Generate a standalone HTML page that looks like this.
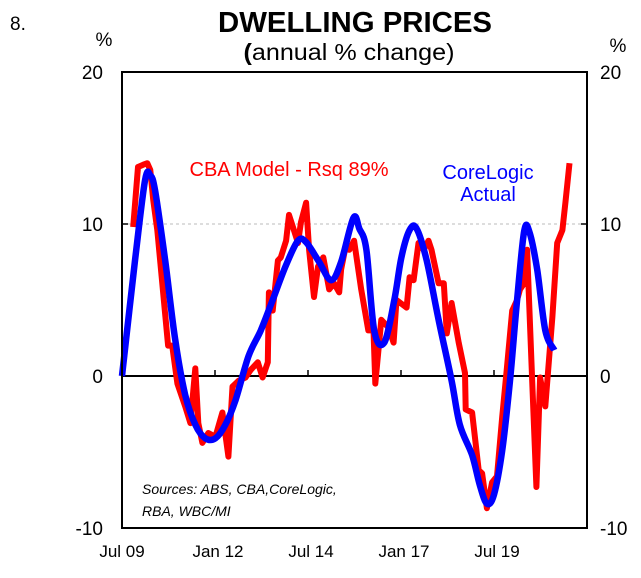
<!DOCTYPE html>
<html><head><meta charset="utf-8"><style>
body{margin:0;background:#fff;font-family:"Liberation Sans",sans-serif}
</style></head><body>
<svg width="641" height="573" xmlns="http://www.w3.org/2000/svg" font-family="Liberation Sans, sans-serif">
<text x="10" y="30" font-size="19">8.</text>
<text x="355" y="32" font-size="29" font-weight="bold" text-anchor="middle" textLength="274" lengthAdjust="spacingAndGlyphs">DWELLING PRICES</text>
<text x="349" y="60" font-size="23" text-anchor="middle" textLength="211" lengthAdjust="spacingAndGlyphs"><tspan font-weight="bold">(</tspan>annual % change)</text>
<text x="104" y="46" font-size="19" text-anchor="middle">%</text>
<text x="618" y="52" font-size="19" text-anchor="middle">%</text>
<g id="grid"></g>
<g id="axes"></g>
<g id="series"></g>
<rect x="122" y="72" width="465" height="456" fill="none" stroke="#000" stroke-width="2"/>
<text x="289" y="176" font-size="20" fill="#f00" text-anchor="middle">CBA Model - Rsq 89%</text>
<text x="488" y="179" font-size="20" fill="#00f" text-anchor="middle">CoreLogic</text>
<text x="488" y="201" font-size="20" fill="#00f" text-anchor="middle">Actual</text>
<text x="142" y="494" font-size="14" font-style="italic">Sources: ABS, CBA,CoreLogic,</text>
<text x="142" y="516" font-size="14" font-style="italic">RBA, WBC/MI</text>
</svg>
<script>
const yTicks=[-10,0,10,20];
const xTickLabels=["Jul 09","Jan 12","Jul 14","Jan 17","Jul 19"];
const xTickDates=[2009.5,2012,2014.5,2017,2019.5];
const redDates=[2009.80,2009.93,2010.07,2010.18,2010.26,2010.34,2010.45,2010.74,2010.85,2010.99,2011.2,2011.34,2011.47,2011.55,2011.66,2011.82,2012.01,2012.2,2012.36,2012.47,2012.64,2012.82,2012.96,2013.15,2013.28,2013.42,2013.45,2013.55,2013.69,2013.77,2013.91,2013.99,2014.12,2014.23,2014.31,2014.45,2014.53,2014.66,2014.77,2014.91,2015.07,2015.2,2015.34,2015.39,2015.53,2015.61,2015.74,2015.93,2016.12,2016.26,2016.31,2016.47,2016.66,2016.8,2016.88,2017.15,2017.23,2017.34,2017.47,2017.61,2017.74,2017.82,2018.01,2018.15,2018.23,2018.36,2018.55,2018.72,2018.74,2018.91,2019.09,2019.18,2019.31,2019.45,2019.58,2019.72,2019.85,2019.99,2020.12,2020.2,2020.31,2020.39,2020.53,2020.64,2020.74,2020.88,2021.07,2021.2,2021.34,2021.42,2021.53];
const redValues=[9.8,13.75,13.9,14.0,13.55,11.6,9.6,2.0,2.0,-0.5,-2.0,-3.1,0.5,-3.1,-4.4,-3.75,-4.0,-2.4,-5.3,-0.7,-0.3,-0.1,0.4,0.9,-0.1,0.9,5.5,4.3,7.6,7.8,8.9,10.6,9.6,8.75,10.1,11.4,8.3,5.2,7.2,7.8,5.7,6.1,5.5,7.0,8.75,8.3,8.9,5.7,3.0,3.0,-0.5,3.7,3.2,2.2,5.0,4.5,6.5,6.3,8.75,8.3,8.9,8.3,6.1,6.1,2.8,4.8,2.2,0.2,-2.2,-2.4,-6.2,-6.4,-8.7,-7.0,-6.6,-2.7,0.6,4.3,5.0,5.7,6.1,8.3,-0.5,-7.3,-0.1,-2.0,3.9,8.75,9.6,11.4,14.0];
const blueDates=[2009.5,2009.85,2010.12,2010.26,2010.39,2010.66,2010.93,2011.2,2011.47,2011.74,2012.01,2012.28,2012.55,2012.9,2013.23,2013.55,2013.91,2014.23,2014.45,2014.8,2015.12,2015.39,2015.72,2015.88,2016.07,2016.28,2016.55,2016.82,2017.01,2017.23,2017.42,2017.69,2018.01,2018.36,2018.58,2018.91,2019.12,2019.31,2019.5,2019.72,2019.93,2020.12,2020.31,2020.45,2020.66,2020.88,2021.12];
const blueValues=[0,7.6,12.9,13.2,12.2,7.6,2.4,-1.25,-3.2,-4.1,-4.1,-3.2,-1.6,1.3,3.0,5.0,7.3,8.9,8.8,7.5,6.3,7.5,10.4,9.7,8.3,3.0,2.2,5.0,7.8,9.6,9.7,7.6,3.7,-0.3,-3.2,-5.2,-7.2,-8.4,-7.8,-4.9,-0.3,5.0,9.5,9.5,7.0,3.0,1.7];
const NS="http://www.w3.org/2000/svg";
const X=t=>122+(t-2009.5)*37.2;
const Y=v=>376-v*15.2;
function mk(tag,attrs,parent){const e=document.createElementNS(NS,tag);for(const k in attrs)e.setAttribute(k,attrs[k]);document.getElementById(parent).appendChild(e);return e;}
const g=mk("line",{x1:122,x2:587,y1:Y(10),y2:Y(10),stroke:"#bbb","stroke-dasharray":"3,3","stroke-width":1},"grid");


const z=mk("line",{x1:122,x2:587,y1:Y(0),y2:Y(0),stroke:"#000","stroke-width":2},"axes");


yTicks.forEach(v=>{
  const a=mk("text",{x:103,y:Y(v)+7,"font-size":19,"text-anchor":"end"},"axes");a.textContent=v;
  
  
  const b=mk("text",{x:600,y:Y(v)+7,"font-size":19},"axes");b.textContent=v;
  
  
  const l=mk("line",{x1:122,x2:128,y1:Y(v),y2:Y(v),stroke:"#000","stroke-width":1.5},"axes");
  
  
  const r=mk("line",{x1:581,x2:587,y1:Y(v),y2:Y(v),stroke:"#000","stroke-width":1.5},"axes");
  
  
});
xTickDates.forEach((t,i)=>{
  const l=mk("line",{x1:X(t),x2:X(t),y1:Y(0)-6,y2:Y(0),stroke:"#000","stroke-width":1.5},"axes");
  
  
  const tx=mk("text",{x:X(t)+(i==0?0:3),y:557,"font-size":17,"text-anchor":"middle"},"axes");tx.textContent=xTickLabels[i];
  
  
});
const rp=redDates.map((t,i)=>(i?"L":"M")+X(t).toFixed(1)+","+Y(redValues[i]).toFixed(1)).join("");
const red=mk("path",{d:rp,fill:"none",stroke:"#f00","stroke-width":6,"stroke-linejoin":"round"},"series");


const P=blueDates.map((t,i)=>[X(t),Y(blueValues[i])]);
let bp="M"+P[0][0]+","+P[0][1];
for(let i=0;i<P.length-1;i++){const p0=P[Math.max(0,i-1)],p1=P[i],p2=P[i+1],p3=P[Math.min(P.length-1,i+2)];
  bp+="C"+(p1[0]+(p2[0]-p0[0])/6).toFixed(1)+","+(p1[1]+(p2[1]-p0[1])/6).toFixed(1)+" "+(p2[0]-(p3[0]-p1[0])/6).toFixed(1)+","+(p2[1]-(p3[1]-p1[1])/6).toFixed(1)+" "+p2[0].toFixed(1)+","+p2[1].toFixed(1);}
const blue=mk("path",{d:bp,fill:"none",stroke:"#00f","stroke-width":6.5,"stroke-linejoin":"round"},"series");


</script>
</body></html>
